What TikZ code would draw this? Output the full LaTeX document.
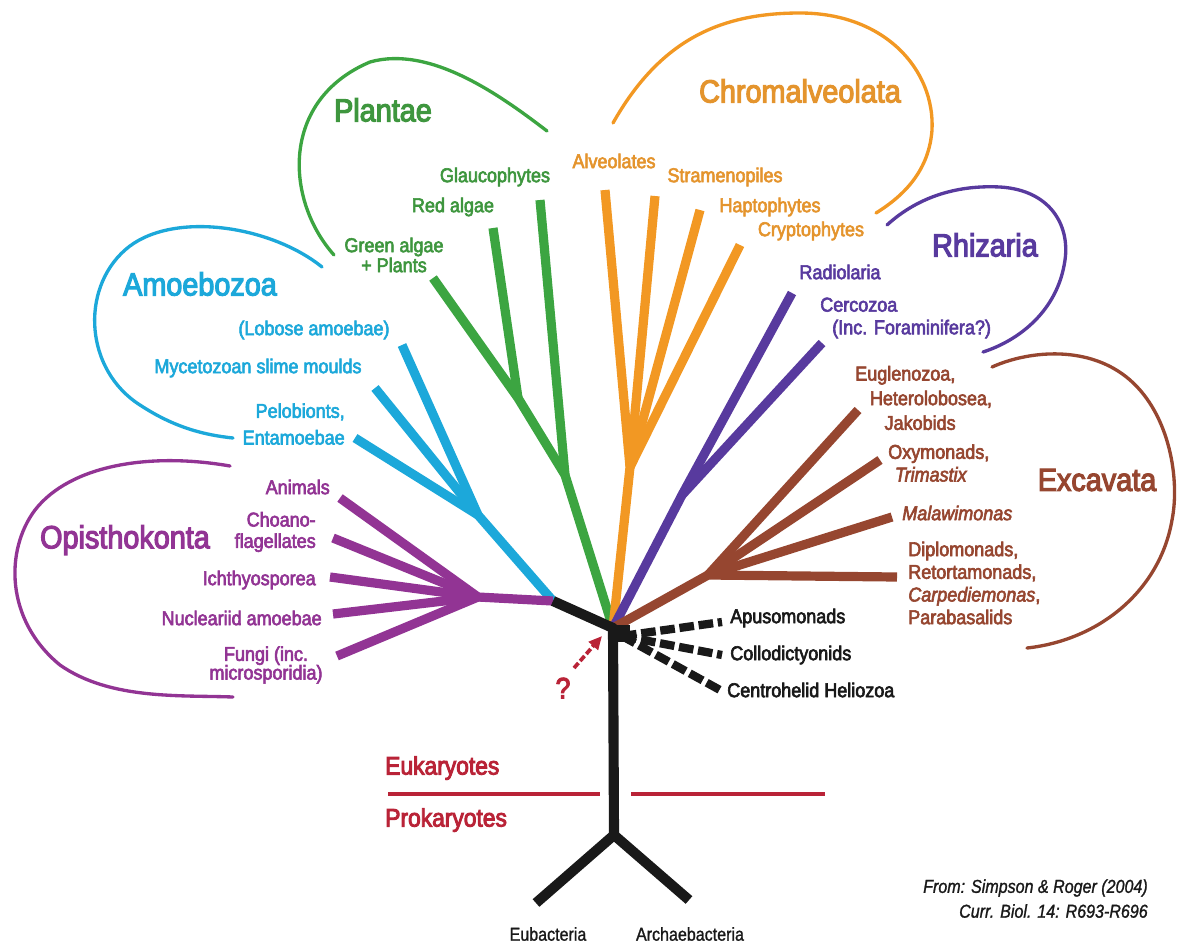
\documentclass[tikz,border=0pt]{standalone}
\usepackage{fontspec}
\setmainfont{Liberation Sans}
\newfontfamily\labfont{Liberation Sans}[FakeStretch=0.9,FakeBold=3]
\newfontfamily\ttlfont{Liberation Sans}[FakeStretch=0.9,FakeBold=3.6]
\newfontfamily\plainfont{Liberation Sans}[FakeStretch=0.86,FakeBold=1.2]
\usetikzlibrary{arrows.meta}
\definecolor{cOp}{RGB}{146,52,148}
\definecolor{cAm}{RGB}{28,168,218}
\definecolor{cPl}{RGB}{60,165,65}
\definecolor{cPlT}{RGB}{62,150,62}
\definecolor{cCh}{RGB}{242,152,35}
\definecolor{cChT}{RGB}{228,148,45}
\definecolor{cRh}{RGB}{88,58,158}
\definecolor{cEx}{RGB}{150,70,48}
\definecolor{cRed}{RGB}{185,35,55}
\definecolor{cBlk}{RGB}{25,25,25}
\begin{document}
\begin{tikzpicture}[x=0.75pt,y=-0.75pt,
  br/.style={line width=6.9pt,line join=round},
  arcline/.style={line width=2.5pt,line cap=round},
  lbl/.style={font=\labfont\fontsize{15}{17}\selectfont,inner sep=0pt},
  ttl/.style={font=\ttlfont\fontsize{24}{26}\selectfont,inner sep=0pt},
  dsh/.style={line width=6.2pt,dash pattern=on 11pt off 3.5pt,cBlk}]
\useasboundingbox (0,0) rectangle (1180,947);

% ---------- key coordinates ----------
\coordinate (H) at (613,628);
\coordinate (K1) at (553,601);
\coordinate (T) at (614,835);
\coordinate (Eu) at (536,903);
\coordinate (Ar) at (689,900);
% Opisthokonta
\coordinate (P1) at (478,597);
\coordinate (oAn) at (340,498);
\coordinate (oCh) at (333,538);
\coordinate (oIc) at (330,577);
\coordinate (oNu) at (333,614);
\coordinate (oFu) at (337,656);
% Amoebozoa
\coordinate (C1) at (478,515);
\coordinate (aLo) at (402,345);
\coordinate (aMy) at (375,388);
\coordinate (aPe) at (355,438);
% Plantae
\coordinate (G1) at (565,475);
\coordinate (G2) at (518,398);
\coordinate (pGl) at (540,200);
\coordinate (pRe) at (493,228);
\coordinate (pGr) at (433,278);
% Chromalveolata
\coordinate (O1) at (630,467);
\coordinate (cAl) at (605,190);
\coordinate (cSt) at (655,196);
\coordinate (cHa) at (700,210);
\coordinate (cCr) at (740,245);
% Rhizaria
\coordinate (R1) at (682,495);
\coordinate (rRa) at (792,293);
\coordinate (rCe) at (822,343);
% Excavata
\coordinate (B1) at (708,575);
\coordinate (eEu) at (858,410);
\coordinate (eOx) at (880,460);
\coordinate (eMa) at (892,517);
\coordinate (eDi) at (897,577);
% dashed
\coordinate (D0) at (622,636);
\coordinate (dAp) at (722,622);
\coordinate (dCo) at (722,655);
\coordinate (dCe) at (720,690);

% ---------- group brackets ----------
\draw[arcline,cOp] (230,466) .. controls (150,452) and (70,465) .. (35,510)
  .. controls (5,550) and (5,620) .. (60,665) .. controls (110,700) and (180,695) .. (233,697);
\draw[arcline,cAm] (322,267) .. controls (270,225) and (170,210) .. (125,250)
  .. controls (80,290) and (85,370) .. (140,405) .. controls (175,428) and (205,435) .. (233,438);
\draw[arcline,cPl] (334,255) .. controls (285,200) and (280,100) .. (370,62)
  .. controls (430,45) and (500,95) .. (547,131);
\draw[arcline,cCh] (613,123) .. controls (660,40) and (720,13) .. (800,13)
  .. controls (885,13) and (935,70) .. (932,130) .. controls (929,170) and (905,195) .. (876,213);
\draw[arcline,cRh] (887,225) .. controls (920,195) and (960,185) .. (1000,187)
  .. controls (1050,190) and (1070,225) .. (1065,260) .. controls (1058,310) and (1020,340) .. (983,352);
\draw[arcline,cEx] (992,367) .. controls (1030,350) and (1090,345) .. (1130,380)
  .. controls (1170,415) and (1180,480) .. (1172,520) .. controls (1160,590) and (1100,640) .. (1027,648);

% ---------- branches ----------
\draw[br,cAm] (aLo) -- (C1) -- (K1);
\draw[br,cAm] (aMy) -- (C1);
\draw[br,cAm] (aPe) -- (C1);
\draw[br,cPl] (pGr) -- (G2) -- (G1) -- (H);
\draw[br,cPl] (pRe) -- (G2);
\draw[br,cPl] (pGl) -- (G1);
\draw[br,cCh] (cAl) -- (O1) -- (H);
\draw[br,cCh] (cSt) -- (O1);
\draw[br,cCh] (cHa) -- (O1);
\draw[br,cCh] (cCr) -- (O1);
\draw[br,cRh] (rRa) -- (R1) -- (H);
\draw[br,cRh] (rCe) -- (R1);
\draw[br,cEx] (eDi) -- (B1) -- (H);
\draw[br,cEx] (eEu) -- (B1);
\draw[br,cEx] (eOx) -- (B1);
\draw[br,cEx] (eMa) -- (B1);
\draw[br,cOp] (oAn) -- (P1) -- (K1);
\draw[br,cOp] (oCh) -- (P1);
\draw[br,cOp] (oIc) -- (P1);
\draw[br,cOp] (oNu) -- (P1);
\draw[br,cOp] (oFu) -- (P1);
% black root
\draw[br,cBlk,line width=7.6pt] (K1) -- (H) -- (T);
\draw[br,cBlk,line width=7.6pt] (Eu) -- (T) -- (Ar);
\fill[cBlk] (H) ++(-5,-3) rectangle ++(22,17);
\draw[dsh] (D0) -- (dAp);
\draw[dsh] (D0) -- (dCo);
\draw[dsh] (D0) -- (dCe);

% red separator
\coordinate (rl1) at (388,794);
\coordinate (rl2) at (600,794);
\coordinate (rl3) at (631,794);
\coordinate (rl4) at (825,794);
\draw[cRed,line width=2.4pt] (rl1) -- (rl2);
\draw[cRed,line width=2.4pt] (rl3) -- (rl4);
% red arrow
\coordinate (qa) at (574,668);
\coordinate (qb) at (602,636);
\draw[cRed,line width=2.8pt,dash pattern=on 5pt off 2pt,-{Triangle[length=10pt,width=9pt]}] (qa) -- (qb);
\node[inner sep=0pt,cRed,font=\ttlfont\fontsize{22}{22}\selectfont] (q) at (563,688) {?};

% ---------- titles ----------
\node[ttl,cOp] (tOp) at (125,540) {Opisthokonta};
\node[ttl,cAm] (tAm) at (200,284) {Amoebozoa};
\node[ttl,cPlT] (tPl) at (383,110) {Plantae};
\node[ttl,cChT] (tCh) at (800,91) {Chromalveolata};
\node[ttl,cRh] (tRh) at (985,245) {Rhizaria};
\node[ttl,cEx] (tEx) at (1097,480) {Excavata};

% ---------- labels ----------
\node[lbl,cOp,anchor=east] (nAn) at (330,487) {Animals};
\node[lbl,cOp,anchor=east,align=right,font=\labfont\fontsize{15}{16}\selectfont] (nCh) at (316,532) {Choano-\\flagellates};
\node[lbl,cOp,anchor=east] (nIc) at (316,580) {Ichthyosporea};
\node[lbl,cOp,anchor=east] (nNu) at (322,618) {Nucleariid amoebae};
\node[lbl,cOp,align=center,font=\labfont\fontsize{15}{14}\selectfont] (nFu) at (266,665) {Fungi (inc.\\microsporidia)};

\node[lbl,cAm] (nLo) at (314,330) {(Lobose amoebae)};
\node[lbl,cAm] (nMy) at (258,368) {Mycetozoan slime moulds};
\node[lbl,cAm,anchor=east,align=right,font=\labfont\fontsize{15}{20}\selectfont] (nPe) at (345,424) {Pelobionts,\\Entamoebae};

\node[lbl,cPlT] (nGl) at (495,177) {Glaucophytes};
\node[lbl,cPlT] (nRe) at (453,207) {Red algae};
\node[lbl,cPlT,align=center,font=\labfont\fontsize{15}{15}\selectfont] (nGr) at (394,255) {Green algae\\+ Plants};

\node[lbl,cChT] (nAl) at (614,161) {Alveolates};
\node[lbl,cChT] (nSt) at (725,177) {Stramenopiles};
\node[lbl,cChT] (nHa) at (770,207) {Haptophytes};
\node[lbl,cChT] (nCr) at (811,231) {Cryptophytes};

\node[lbl,cRh] (nRa) at (840,272) {Radiolaria};
\node[lbl,cRh,anchor=west,align=left] (nCe) at (820,318) {Cercozoa\\\hspace*{9pt}(Inc. Foraminifera?)};

\node[lbl,cEx,anchor=west,align=left,font=\labfont\fontsize{15}{18.5}\selectfont] (nEu) at (855,398) {Euglenozoa,\\\hspace*{11pt}Heterolobosea,\\\hspace*{22pt}Jakobids};
\node[lbl,cEx,anchor=west,align=left] (nOx) at (888,463) {Oxymonads,\\\hspace*{5pt}\itshape Trimastix};
\node[lbl,cEx,anchor=west] (nMa) at (902,513) {\itshape Malawimonas};
\node[lbl,cEx,anchor=west,align=left] (nDi) at (908,583) {Diplomonads,\\Retortamonads,\\\itshape Carpediemonas\upshape,\\Parabasalids};

\node[lbl,cBlk,anchor=west] (nAp) at (730,618) {Apusomonads};
\node[lbl,cBlk,anchor=west] (nCo) at (730,655) {Collodictyonids};
\node[lbl,cBlk,anchor=west] (nCn) at (727,690) {Centrohelid Heliozoa};

\node[lbl,cRed,anchor=west,font=\ttlfont\fontsize{19}{20}\selectfont] (nEk) at (385,768) {Eukaryotes};
\node[lbl,cRed,anchor=west,font=\ttlfont\fontsize{19}{20}\selectfont] (nPk) at (385,820) {Prokaryotes};

\node[inner sep=0pt,cBlk,font=\plainfont\fontsize{14}{15}\selectfont] (nEb) at (548,934) {Eubacteria};
\node[inner sep=0pt,cBlk,font=\plainfont\fontsize{14}{15}\selectfont] (nAb) at (690,934) {Archaebacteria};

\node[inner sep=0pt,cBlk,anchor=east,font=\plainfont\itshape\fontsize{14}{15}\selectfont] (cit1) at (1148,888) {From: Simpson \& Roger (2004)};
\node[inner sep=0pt,cBlk,anchor=east,font=\plainfont\itshape\fontsize{14}{15}\selectfont] (cit2) at (1148,911) {Curr. Biol. 14: R693-R696};
\end{tikzpicture}
\end{document}
